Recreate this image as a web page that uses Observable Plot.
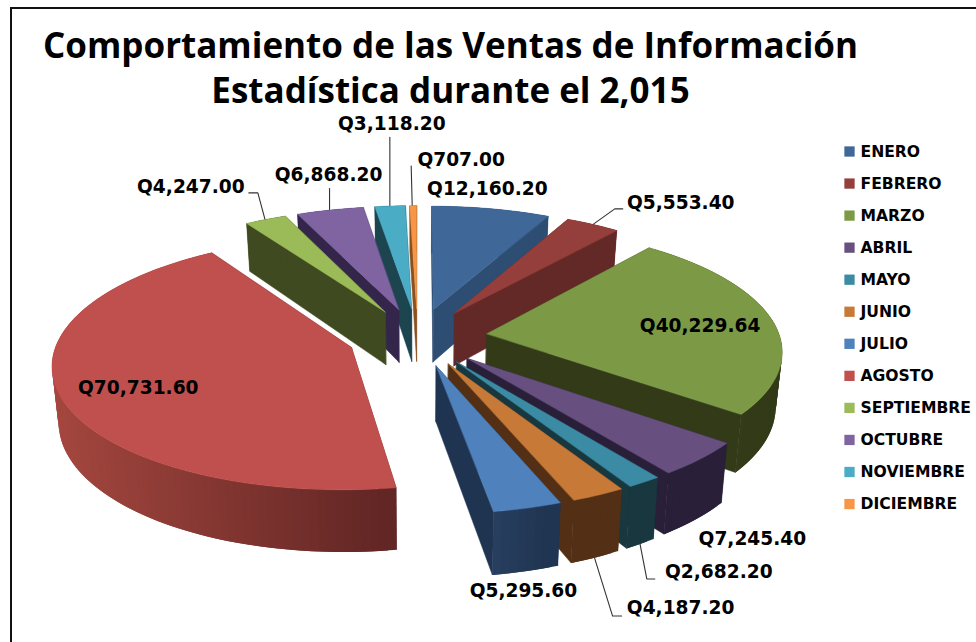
<!DOCTYPE html>
<html lang="es">
<head>
<meta charset="utf-8">
<script src="https://cdn.jsdelivr.net/npm/d3@7"></script>
<script src="https://cdn.jsdelivr.net/npm/@observablehq/plot@0.6"></script>
<style>
html,body{margin:0;padding:0;background:#fff;}
#page{position:relative;width:976px;height:642px;overflow:hidden;}
#frame{position:absolute;left:10px;top:7px;right:-4px;bottom:-4px;border-left:2px solid #111;border-top:2px solid #111;pointer-events:none;}
#title{position:absolute;left:0;top:0;width:901px;height:112px;text-align:center;font:700 35px/45px "Open Sans",sans-serif;color:#000;padding-top:22px;box-sizing:border-box;}
#chart{position:absolute;left:0;top:112px;}
svg{display:block;background:transparent;}
</style>
</head>
<body>
<div id="page">
  <div id="frame"></div>
  <div id="title">Comportamiento de las Ventas de Información<br>Estadística durante el 2,015</div>
  <div id="chart"></div>
</div>
<script>
const months = ["ENERO","FEBRERO","MARZO","ABRIL","MAYO","JUNIO","JULIO","AGOSTO","SEPTIEMBRE","OCTUBRE","NOVIEMBRE","DICIEMBRE"];
const sales = [12160.20,5553.40,40229.64,7245.40,2682.20,4187.20,5295.60,70731.60,4247.00,6868.20,3118.20,707.00];
const topColors = ["#3F6797","#953F3D","#7C9A46","#67507F","#3A8BA3","#C77A37","#4F81BD","#C0504D","#9BBB59","#8064A2","#4BACC6","#F79646"];
const wallLeft  = ["#2E4D72","#632927","#353C1A","#291F38","#18373F","#533015","#2A4062","#A5473F","#3F4A21","#33264A","#1D4550","#8A5020"];
const wallRight = ["#2E4D72","#632927","#323A18","#291F38","#18373F","#533015","#1F3450","#612624","#3F4A21","#33264A","#1D4550","#8A5020"];
// draw order, far slices first
const drawOrder = [11,10,9,8,0,1,2,3,4,5,6,7];
// label centre relative to the slice's outer mid-point
const labelOffset = [[-4,-19],[87,-21],[-74,6],[50,79],[73,89],[81,112],[-5,82],[81,-7],[-74,-32],[-1,-34.5],[2,-81],[48,-45]];
// leader polylines relative to the slice's outer mid-point
const leaderOffset = {1:[[0,0],[21,-15],[29,-15]],4:[[-6,60],[1,96],[9,96]],5:[[-5,62],[13,120],[22,120]],8:[[0,0],[-7,-26],[-16,-26]],9:[[0,0],[0,-21]],10:[[0,0],[0,-68]],11:[[-1,0],[-2,-39]]};

// pie geometry: radius, explosion, depth and a simple perspective
const cx = 417, cy = 336.5, R = 293, E = 70, K = 0.000416, S = 0.4166, H = 54, SHRINK = 0.982;
const rad = Math.PI / 180;
const total = d3.sum(sales);
const top3 = (X, Y) => { const d = 1 + K * Y; return [cx + X / d, cy - S * Y / d]; };
const bot3 = (X, Y) => { const d = 1 + K * Y; return [cx + SHRINK * X / d, cy - S * Y / d + H / d]; };

let acc = 0;
const slices = sales.map((v, i) => {
  const a0 = acc / total * 360; acc += v; const a1 = acc / total * 360;
  const m = (a0 + a1) / 2;
  const ox = E * Math.sin(m * rad), oy = E * Math.cos(m * rad);
  const on = (a) => [ox + R * Math.sin(a * rad), oy + R * Math.cos(a * rad)];
  const n = Math.max(2, Math.ceil((a1 - a0) / 1.5));
  const angles = d3.range(n + 1).map(k => a0 + (a1 - a0) * k / n);
  const anchor = top3((E + R + 2) * Math.sin(m * rad), (E + R + 2) * Math.cos(m * rad));
  return {i, a0, a1, m, ox, oy, on, angles, anchor};
});

// one flat list of painted pieces; outer-wall strips overlap the next strip so no seams show
const pieces = [];
let order = 0;
const poly = (color, pts, stroke) => { const id = order++; pts.forEach(p => pieces.push({id, color, stroke, x: p[0], y: p[1]})); };
for (const i of drawOrder) {
  const s = slices[i];
  const A = [s.ox, s.oy], P0 = s.on(s.a0), P1 = s.on(s.a1);
  poly(wallRight[i], [top3(...A), top3(...P0), bot3(...P0), bot3(...A)], wallRight[i]);
  poly(wallRight[i], [top3(...A), top3(...P1), bot3(...P1), bot3(...A)], wallRight[i]);
  const xs = s.angles.map(a => top3(...s.on(a))[0]);
  const x0 = d3.min(xs), x1 = d3.max(xs);
  const shade = d3.interpolateRgb(wallLeft[i], wallRight[i]);
  const last = s.angles.length - 1;
  // paint from the last strip backwards so each strip covers the overlap of the one before
  for (let k = last - 1; k >= 0; k--) {
    const p = s.on(s.angles[k]), q = s.on(s.angles[Math.min(k + 2, last)]);
    const t = x1 > x0 ? ((xs[k] + xs[k + 1]) / 2 - x0) / (x1 - x0) : 0;
    poly(shade(t), [top3(...p), top3(...q), bot3(...q), bot3(...p)], "none");
  }
  poly(topColors[i], [top3(...A), ...s.angles.map(a => top3(...s.on(a)))], topColors[i]);
}

const labels = slices.map(s => ({
  text: "Q" + d3.format(",.2f")(sales[s.i]),
  x: s.anchor[0] + labelOffset[s.i][0],
  y: s.anchor[1] + labelOffset[s.i][1]
}));
const leaders = Object.entries(leaderOffset).flatMap(([i, pts]) =>
  pts.map(p => ({id: i, x: slices[i].anchor[0] + p[0], y: slices[i].anchor[1] + p[1]})));

const legendTop = 151, legendStep = 32.05;
const legend = months.map((name, i) => ({name, color: topColors[i], x: 849, tx: 860, y: legendTop + i * legendStep}));

const chart = Plot.plot({
  width: 976, height: 530,
  margin: 0,
  x: {domain: [0, 976], range: [0, 976], axis: null},
  y: {domain: [112, 642], range: [0, 530], axis: null},
  color: {type: "identity"},
  marks: [
    Plot.line(pieces, {x: "x", y: "y", z: "id", fill: "color", stroke: d => d.stroke, strokeWidth: 0.5, curve: "linear-closed"}),
    Plot.line(leaders, {x: "x", y: "y", z: "id", stroke: "#333", strokeWidth: 1.1}),
    Plot.text(labels, {x: "x", y: "y", text: "text", fill: "#000", fontSize: 18.6, fontWeight: "bold", fontFamily: "DejaVu Sans"}),
    Plot.dot(legend, {x: "x", y: "y", symbol: "square", r: 5.8, fill: "color", stroke: null}),
    Plot.text(legend, {x: "tx", y: "y", text: "name", textAnchor: "start", fill: "#000", fontSize: 15.6, fontWeight: "bold", fontFamily: "DejaVu Sans"})
  ]
});
document.getElementById("chart").appendChild(chart);
</script>
</body>
</html>
